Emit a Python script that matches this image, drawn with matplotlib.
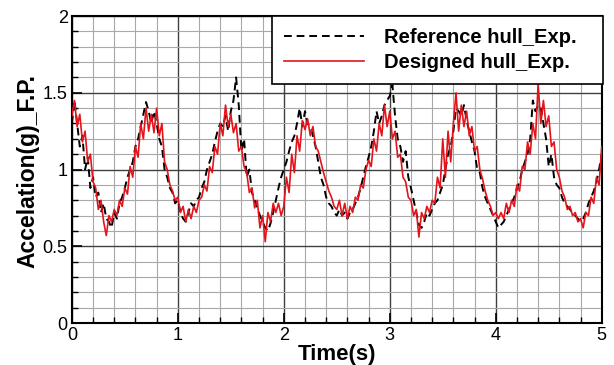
import numpy as np
import matplotlib
matplotlib.use("Agg")
import matplotlib.pyplot as plt
from matplotlib.ticker import MultipleLocator, FormatStrFormatter

plt.rcParams['font.family'] = ['Liberation Sans', 'DejaVu Sans']

# time samples (s), 0.025 s step
t = np.round(np.arange(0, 201) * 0.025, 3)

# Designed hull_Exp. (red)
designed = [
    1.35, 1.45, 1.28, 1.36, 1.18, 1.25, 1.05, 1.10, 0.92, 0.88, 0.74, 0.80, 0.66, 0.57, 0.70, 0.66, 0.74, 0.70, 0.80, 0.76,
    0.88, 0.84, 1.02, 0.95, 1.15, 1.08, 1.30, 1.20, 1.40, 1.25, 1.36, 1.24, 1.40, 1.22, 1.30, 1.05, 1.00, 0.90, 0.86, 0.80,
    0.82, 0.72, 0.76, 0.66, 0.74, 0.68, 0.76, 0.72, 0.80, 0.82, 0.90, 0.86, 1.02, 0.98, 1.15, 1.10, 1.30, 1.22, 1.42, 1.28,
    1.36, 1.24, 1.30, 1.12, 1.15, 1.02, 0.98, 0.85, 0.88, 0.75, 0.80, 0.62, 0.70, 0.53, 0.72, 0.66, 0.78, 0.72, 0.78, 0.70,
    0.76, 0.95, 0.85, 1.10, 0.98, 1.22, 1.12, 1.32, 1.26, 1.33, 1.22, 1.28, 1.15, 1.12, 1.05, 0.98, 0.92, 0.86, 0.82, 0.76,
    0.74, 0.80, 0.70, 0.78, 0.68, 0.76, 0.72, 0.82, 0.80, 0.90, 0.88, 1.00, 1.06, 1.02, 1.20, 1.12, 1.30, 1.22, 1.42, 1.28,
    1.38, 1.20, 1.25, 1.08, 1.10, 0.95, 0.92, 0.82, 0.80, 0.70, 0.74, 0.56, 0.72, 0.68, 0.76, 0.72, 0.80, 0.78, 0.95, 0.88,
    1.20, 0.95, 1.25, 1.05, 1.30, 1.50, 1.25, 1.42, 1.28, 1.38, 1.22, 1.28, 1.12, 1.15, 1.00, 0.94, 0.86, 0.80, 0.76, 0.70,
    0.72, 0.68, 0.72, 0.68, 0.78, 0.72, 0.80, 0.76, 0.90, 0.86, 1.02, 1.00, 1.18, 1.10, 1.30, 1.20, 1.56, 1.30, 1.45, 1.28,
    1.35, 1.15, 1.18, 1.00, 0.95, 0.86, 0.82, 0.74, 0.76, 0.70, 0.72, 0.66, 0.68, 0.62, 0.72, 0.70, 0.82, 0.78, 0.95, 0.90,
    1.15,
]

# Reference hull_Exp. (black dashed)
reference = [
    1.30, 1.45, 1.30, 1.15, 1.22, 1.00, 1.08, 0.88, 0.95, 0.82, 0.85, 0.72, 0.78, 0.68, 0.66, 0.62, 0.72, 0.68, 0.78, 0.82,
    0.88, 0.95, 1.00, 1.05, 1.15, 1.20, 1.28, 1.36, 1.44, 1.38, 1.30, 1.38, 1.30, 1.20, 1.15, 1.00, 0.95, 0.88, 0.85, 0.78,
    0.80, 0.72, 0.68, 0.66, 0.72, 0.78, 0.76, 0.80, 0.82, 0.88, 0.92, 1.00, 1.05, 1.10, 1.18, 1.25, 1.30, 1.28, 1.35, 1.25,
    1.38, 1.45, 1.60, 1.42, 1.12, 1.20, 0.95, 1.00, 0.85, 0.80, 0.75, 0.70, 0.66, 0.62, 0.60, 0.65, 0.72, 0.80, 0.88, 0.95,
    1.00, 1.05, 1.12, 1.18, 1.22, 1.30, 1.40, 1.28, 1.38, 1.30, 1.28, 1.22, 1.15, 1.05, 0.95, 0.90, 0.82, 0.78, 0.76, 0.72,
    0.70, 0.74, 0.70, 0.72, 0.68, 0.72, 0.74, 0.78, 0.82, 0.88, 0.95, 1.02, 1.08, 1.15, 1.25, 1.38, 1.30, 1.35, 1.42, 1.45,
    1.48, 1.55, 1.35, 1.20, 1.15, 1.05, 1.12, 0.95, 0.88, 0.80, 0.72, 0.64, 0.62, 0.66, 0.72, 0.70, 0.74, 0.78, 0.80, 0.85,
    0.90, 1.00, 1.10, 1.15, 1.25, 1.40, 1.38, 1.35, 1.42, 1.32, 1.25, 1.18, 1.12, 1.00, 0.98, 0.88, 0.82, 0.78, 0.74, 0.70,
    0.66, 0.62, 0.64, 0.66, 0.70, 0.74, 0.78, 0.82, 0.88, 0.92, 1.00, 1.05, 1.10, 1.20, 1.45, 1.38, 1.42, 1.40, 1.30, 1.20,
    1.02, 1.10, 0.95, 0.90, 0.88, 0.82, 0.78, 0.76, 0.74, 0.72, 0.70, 0.68, 0.66, 0.68, 0.72, 0.78, 0.82, 0.86, 0.92, 1.00,
    1.10,
]

fig = plt.figure(figsize=(6.14, 3.65), dpi=100)
ax = fig.add_axes([0.117, 0.115, 0.863, 0.841])

ax.plot(t, reference, color='black', linestyle=(0, (4, 2.5)), linewidth=1.4,
        label='Reference hull_Exp.', zorder=3)
ax.plot(t, designed, color='#e3141b', linewidth=1.2,
        label='Designed hull_Exp.', zorder=4)

ax.set_xlim(0, 5)
ax.set_ylim(0, 2)
ax.xaxis.set_major_locator(MultipleLocator(1))
ax.xaxis.set_minor_locator(MultipleLocator(0.2))
ax.yaxis.set_major_locator(MultipleLocator(0.5))
ax.yaxis.set_minor_locator(MultipleLocator(0.1))
ax.yaxis.set_major_formatter(FormatStrFormatter('%g'))

ax.grid(which='major', color='#404040', linewidth=1.0)
ax.grid(which='minor', color='#a8a8a8', linewidth=0.8)
ax.set_axisbelow(True)

ax.tick_params(which='both', direction='in', top=False, right=False,
               labelsize=13, pad=3)
ax.tick_params(which='major', length=7, width=1.2)
ax.tick_params(which='minor', length=4, width=1)
for s in ax.spines.values():
    s.set_linewidth(1.5)

ax.set_xlabel('Time(s)', fontsize=16, fontweight='bold', labelpad=0)
ax.set_ylabel('Accelation(g)_F.P.', fontsize=16.5, fontweight='bold')
ax.yaxis.set_label_coords(-0.062, 0.495)

# legend box spans from about x=0.377 to the right edge of the axes
leg = ax.legend(loc='upper left', bbox_to_anchor=(0.377, 0.0, 0.625, 1.0),
                mode='expand', prop={'size': 14.5, 'weight': 'bold'},
                frameon=True, fancybox=False, edgecolor='black', framealpha=1,
                handlelength=4.0, borderpad=0.6, labelspacing=0.3,
                handletextpad=1.0, borderaxespad=0)
leg.get_frame().set_linewidth(1.2)

fig.savefig('out.png', dpi=100)
